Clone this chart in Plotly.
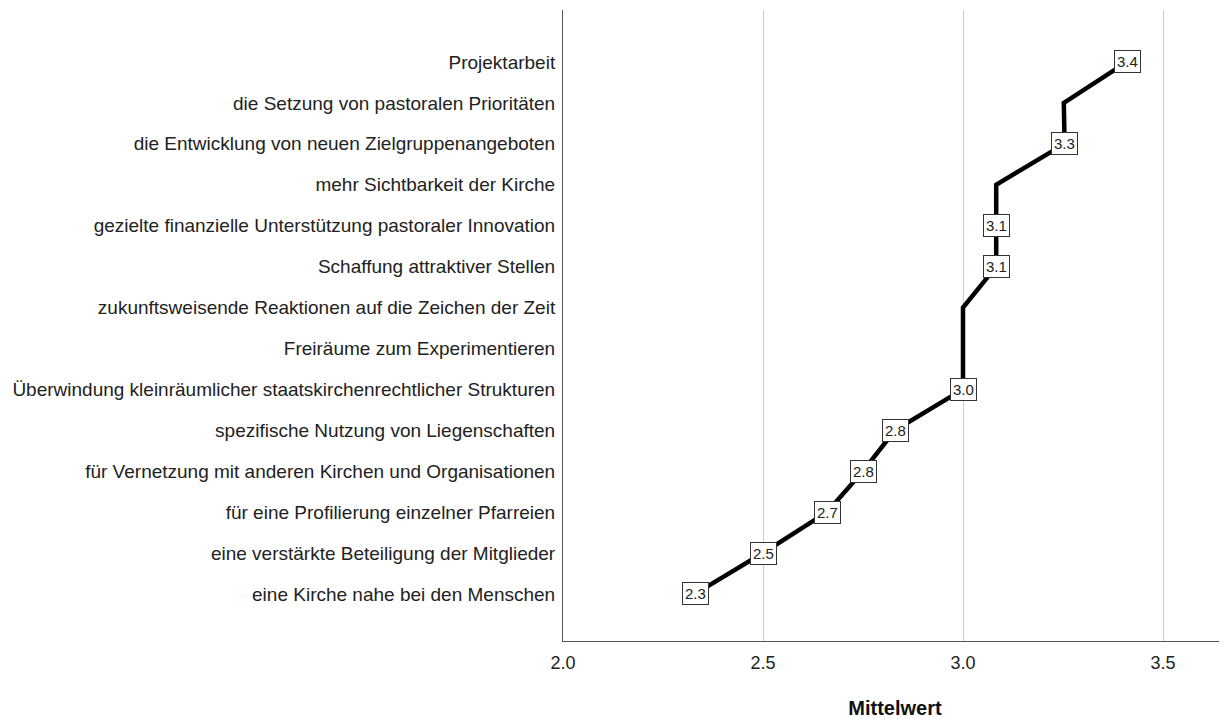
import plotly.graph_objects as go

categories = [
    "Projektarbeit",
    "die Setzung von pastoralen Prioritäten",
    "die Entwicklung von neuen Zielgruppenangeboten",
    "mehr Sichtbarkeit der Kirche",
    "gezielte finanzielle Unterstützung pastoraler Innovation",
    "Schaffung attraktiver Stellen",
    "zukunftsweisende Reaktionen auf die Zeichen der Zeit",
    "Freiräume zum Experimentieren",
    "Überwindung kleinräumlicher staatskirchenrechtlicher Strukturen",
    "spezifische Nutzung von Liegenschaften",
    "für Vernetzung mit anderen Kirchen und Organisationen",
    "für eine Profilierung einzelner Pfarreien",
    "eine verstärkte Beteiligung der Mitglieder",
    "eine Kirche nahe bei den Menschen",
]
means = [3.41, 3.252, 3.254, 3.083, 3.083, 3.083, 3.0, 3.0, 3.0, 2.83, 2.75, 2.66, 2.5, 2.33]
show_label = [True, False, True, False, True, True, False, False, True, True, True, True, True, True]
x_ticks = [2.0, 2.5, 3.0, 3.5]

fig = go.Figure()
fig.add_trace(go.Scatter(
    x=means, y=categories, mode="lines",
    line=dict(color="black", width=4.5),
    hoverinfo="skip", showlegend=False,
))

for cat, v, s in zip(categories, means, show_label):
    if s:
        fig.add_annotation(
            x=v, y=cat, text=f"{v:.1f}", showarrow=False,
            bgcolor="white", bordercolor="#333333", borderwidth=1, borderpad=2,
            font=dict(family="Liberation Sans, Arial", size=15, color="#222222"),
        )

fig.update_layout(
    width=1219, height=711,
    margin=dict(l=555, r=0, t=2, b=78),
    paper_bgcolor="white", plot_bgcolor="white",
    font=dict(family="Liberation Sans, Arial", size=18, color="#222222"),
    xaxis=dict(
        range=[2.0, 3.66], tickvals=x_ticks, ticktext=[f"{t:.1f}" for t in x_ticks],
        showgrid=True, gridcolor="#cccccc", gridwidth=1,
        showline=True, linecolor="#555555", linewidth=1,
        zeroline=False, ticks="", ticklabelstandoff=5,
        tickfont=dict(size=18),
        title=dict(text="<b>Mittelwert</b>", font=dict(size=20, color="#111111"), standoff=29),
    ),
    yaxis=dict(
        type="category", categoryorder="array", categoryarray=categories,
        range=[14.15, -1.27],
        showgrid=False, showline=True, linecolor="#555555", linewidth=1,
        zeroline=False, ticks="", ticklabelstandoff=3,
        tickfont=dict(size=19),
    ),
)

fig.write_html("out.html")
